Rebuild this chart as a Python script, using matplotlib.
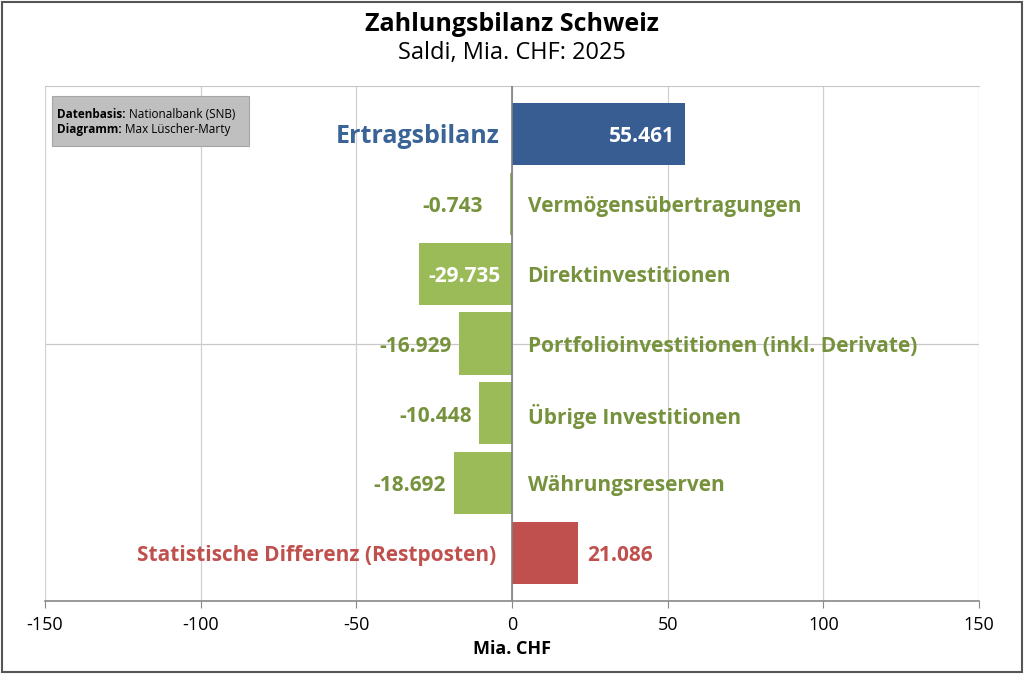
import matplotlib.pyplot as plt
from matplotlib.patches import Rectangle
from matplotlib import font_manager

# Daten: Zahlungsbilanz Schweiz, Saldi 2025 (Mia. CHF)
kategorien = ["Ertragsbilanz", "Vermögensübertragungen", "Direktinvestitionen",
              "Portfolioinvestitionen (inkl. Derivate)", "Übrige Investitionen",
              "Währungsreserven", "Statistische Differenz (Restposten)"]
werte = [55.461, -0.743, -29.735, -16.929, -10.448, -18.692, 21.086]
wert_texte = ["55.461", "-0.743", "-29.735", "-16.929", "-10.448", "-18.692", "21.086"]
x_ticks = [-150, -100, -50, 0, 50, 100, 150]

BLAU = "#385D93"
GRUEN = "#9BBB59"
ROT = "#C0504D"
GRUEN_TXT = "#76923C"
BLAU_TXT = "#3A6396"

installed = {f.name for f in font_manager.fontManager.ttflist}
fam = [f for f in ["Liberation Sans Narrow", "Open Sans", "DejaVu Sans"] if f in installed]
plt.rcParams['font.family'] = fam

bar_farben = [BLAU] + [GRUEN] * 5 + [ROT]

fig = plt.figure(figsize=(10.24, 6.74), dpi=100)
ax = fig.add_axes([0.0439, 0.1083, 0.9122, 0.7641])

pos = list(range(len(werte)))
ax.barh(pos, werte, height=0.89, color=bar_farben, zorder=3)

ax.set_xlim(-150, 150)
ax.set_ylim(6.69, -0.69)
ax.set_xticks(x_ticks)
ax.set_xticklabels([str(t) for t in x_ticks], fontsize=13)
ax.set_yticks([])
ax.grid(axis='x', color='#D0D0D0', linewidth=0.9, zorder=0)
ax.axhline(3, color='#C8C8C8', linewidth=0.9, zorder=0)
ax.axvline(0, color='#7F7F7F', linewidth=1.2, zorder=4)
ax.tick_params(axis='x', length=5, color='#888888', pad=6)

for s in ['left', 'right']:
    ax.spines[s].set_visible(False)
ax.spines['top'].set_color('#C8C8C8')
ax.spines['bottom'].set_color('#888888')
ax.spines['bottom'].set_linewidth(1.2)

ax.set_xlabel("Mia. CHF", fontsize=13, fontweight='bold', labelpad=4)

# Beschriftungen (leicht unter Balkenmitte, wie im Original)
fs = 15
dy = 0.04
ax.text(-4, 0 + dy, kategorien[0], color=BLAU_TXT, fontsize=18, fontweight='bold',
        ha='right', va='center', zorder=5)
ax.text(werte[0] - 3, 0 + dy, wert_texte[0], color='white', fontsize=fs, fontweight='bold',
        ha='right', va='center', zorder=5)

for i in range(1, 6):
    ax.text(5, i + dy, kategorien[i], color=GRUEN_TXT, fontsize=fs, fontweight='bold',
            ha='left', va='center', zorder=5)

ax.text(werte[1] - 8.5, 1 + dy, wert_texte[1], color=GRUEN_TXT, fontsize=fs, fontweight='bold',
        ha='right', va='center', zorder=5)
ax.text(werte[2] / 2 - 0.5, 2 + dy, wert_texte[2], color='white', fontsize=fs, fontweight='bold',
        ha='center', va='center', zorder=5)
for i in [3, 4, 5]:
    ax.text(werte[i] - 2.5, i + dy, wert_texte[i], color=GRUEN_TXT, fontsize=fs, fontweight='bold',
            ha='right', va='center', zorder=5)

ax.text(-5, 6 + dy, kategorien[6], color=ROT, fontsize=fs, fontweight='bold',
        ha='right', va='center', zorder=5)
ax.text(werte[6] + 3, 6 + dy, wert_texte[6], color=ROT, fontsize=fs, fontweight='bold',
        ha='left', va='center', zorder=5)

# Titel
fig.text(0.5, 0.963, "Zahlungsbilanz Schweiz", ha='center', va='center',
         fontsize=18, fontweight='bold')
fig.text(0.5, 0.921, "Saldi, Mia. CHF: 2025", ha='center', va='center', fontsize=17)

# Quellenbox
box = Rectangle((52 / 1024, 1 - 146 / 674), 197 / 1024, 50 / 674,
                transform=fig.transFigure, facecolor='#BFBFBF', edgecolor='#A6A6A6',
                linewidth=0.8, zorder=6)
fig.add_artist(box)

fig.canvas.draw()
r = fig.canvas.get_renderer()
quelle = [("Datenbasis:", " Nationalbank (SNB)", 115), ("Diagramm:", " Max Lüscher-Marty", 129)]
for fett, rest, ypix in quelle:
    y0 = 1 - ypix / 674
    t = fig.text(57 / 1024, y0, fett, fontsize=8.5, fontweight='bold',
                 va='center', ha='left', zorder=7)
    bb = t.get_window_extent(r)
    fig.text(bb.x1 / fig.bbox.width, y0, rest, fontsize=8.5, va='center', ha='left', zorder=7)

# Rahmen
fig.add_artist(Rectangle((0.002, 0.003), 0.996, 0.994, transform=fig.transFigure,
                         fill=False, edgecolor='#555555', linewidth=1.5))

fig.savefig("out.png", dpi=100)
